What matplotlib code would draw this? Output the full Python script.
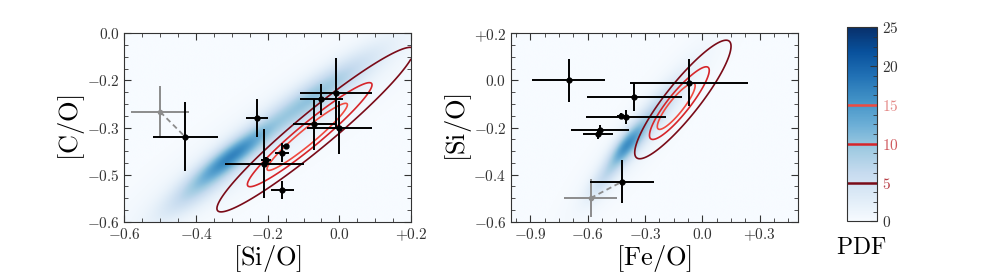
import numpy as np
import matplotlib
matplotlib.use('Agg')
import matplotlib.pyplot as plt
from matplotlib.ticker import AutoMinorLocator, MultipleLocator
from matplotlib.colors import Normalize
from matplotlib.cm import ScalarMappable

plt.rcParams['mathtext.fontset'] = 'cm'
plt.rcParams['font.family'] = 'serif'

# ---- left panel: [Si/O] vs [C/O], black measurements
left_x = [-0.43, -0.23, -0.21, -0.205, -0.16, -0.15, -0.16, -0.07, -0.05, -0.01, 0.00]
left_y = [-0.33, -0.27, -0.415, -0.405, -0.38, -0.36, -0.50, -0.29, -0.21, -0.19, -0.30]
left_xerr = [0.09, 0.03, 0.11, 0.015, 0.02, 0.008, 0.032, 0.06, 0.06, 0.10, 0.09]
left_yerr = [0.11, 0.06, 0.11, 0.012, 0.03, 0.008, 0.029, 0.08, 0.05, 0.11, 0.085]
# grey (alternative) value and the black point it belongs to
left_grey = (-0.50, -0.25, 0.08, 0.083)
left_link = 0

# ---- right panel: [Fe/O] vs [Si/O]
right_x = [-0.70, -0.07, -0.355, -0.40, -0.425, -0.535, -0.545, -0.42]
right_y = [0.00, -0.01, -0.07, -0.157, -0.15, -0.21, -0.227, -0.43]
right_xerr = [0.19, 0.31, 0.25, 0.21, 0.02, 0.15, 0.08, 0.17]
right_yerr = [0.09, 0.10, 0.058, 0.03, 0.01, 0.02, 0.02, 0.09]
right_grey = (-0.585, -0.50, 0.14, 0.08)
right_link = 7

# ---- PDF shapes: (x0, y0, sigma_major, sigma_minor, slope, amplitude)
blue_left = [(-0.30, -0.39, 0.09, 0.024, 0.85, 13.0),
             (-0.07, -0.20, 0.14, 0.030, 0.80, 8.0),
             (-0.40, -0.50, 0.09, 0.028, 0.85, 5.0),
             (-0.18, -0.31, 0.32, 0.060, 0.80, 2.5)]
red_left = [(-0.06, -0.30, 0.29, 0.042, 0.95, 11.0),
            (-0.10, -0.34, 0.13, 0.020, 0.95, 11.0)]
blue_right = [(-0.40, -0.28, 0.08, 0.030, 1.0, 11.0),
              (-0.27, -0.16, 0.15, 0.035, 1.0, 6.0),
              (-0.52, -0.42, 0.08, 0.030, 1.0, 4.0),
              (-0.30, -0.20, 0.32, 0.065, 1.0, 2.0)]
red_right = [(-0.10, -0.08, 0.25, 0.058, 1.0, 13.0),
             (-0.15, -0.12, 0.09, 0.024, 1.0, 12.0)]

levels = [5, 10, 15]
level_colors = ['#7a0b18', '#d6252a', '#f04a40']
label_colors = ['#b84048', '#d05a5e', '#e48a88']

left_lims = (-0.6, 0.2, -0.6, 0.0)
right_lims = (-1.0, 0.5, -0.6, 0.2)

left_xticks = [-0.6, -0.4, -0.2, 0.0, 0.2]
left_xlabels = ['$-0.6$', '$-0.4$', '$-0.2$', '$0.0$', '$+0.2$']
left_yticks = [-0.6, -0.45, -0.3, -0.15, 0.0]
left_ylabels = ['$-0.6$', '$-0.5$', '$-0.3$', '$-0.2$', '$0.0$']
right_xticks = [-0.9, -0.6, -0.3, 0.0, 0.3]
right_xlabels = ['$-0.9$', '$-0.6$', '$-0.3$', '$0.0$', '$+0.3$']
right_yticks = [-0.6, -0.4, -0.2, 0.0, 0.2]
right_ylabels = ['$-0.6$', '$-0.4$', '$-0.2$', '$0.0$', '$+0.2$']


def pdf(comps, X, Y):
    Z = np.zeros_like(X)
    for x0, y0, s1, s2, slope, amp in comps:
        t = np.arctan(slope)
        u = (X - x0) * np.cos(t) + (Y - y0) * np.sin(t)
        v = -(X - x0) * np.sin(t) + (Y - y0) * np.cos(t)
        Z += amp * np.exp(-0.5 * (u**2 / s1**2 + v**2 / s2**2))
    return Z


def panel(ax, lims, blue, red, xs, ys, xe, ye, grey, link):
    x = np.linspace(lims[0], lims[1], 400)
    y = np.linspace(lims[2], lims[3], 400)
    X, Y = np.meshgrid(x, y)
    ax.imshow(pdf(blue, X, Y), origin='lower', extent=lims, aspect='auto',
              cmap='Blues', vmin=0, vmax=25, interpolation='bilinear')
    ax.contour(X, Y, pdf(red, X, Y), levels=levels, colors=level_colors, linewidths=1.2)
    ax.plot([grey[0], xs[link]], [grey[1], ys[link]], ls='--', color='#8c8c8c', lw=1.3, dashes=(3, 2))
    ax.errorbar(grey[0], grey[1], xerr=grey[2], yerr=grey[3], fmt='o', color='#8c8c8c',
                ms=3, elinewidth=1.4, capsize=0)
    ax.errorbar(xs, ys, xerr=xe, yerr=ye, fmt='o', color='k', ms=3.5, elinewidth=1.4, capsize=0)
    ax.set_xlim(lims[0], lims[1])
    ax.set_ylim(lims[2], lims[3])
    ax.xaxis.set_minor_locator(AutoMinorLocator())
    ax.yaxis.set_minor_locator(AutoMinorLocator())
    ax.tick_params(which='both', direction='in', top=True, right=True, colors='#333333',
                   labelsize=11)
    ax.tick_params(which='major', length=5)
    ax.tick_params(which='minor', length=3)
    for s in ax.spines.values():
        s.set_color('#333333')


fig = plt.figure(figsize=(9.97, 2.77), dpi=100)
ax1 = fig.add_axes([0.1247, 0.1996, 0.2876, 0.680])
ax2 = fig.add_axes([0.5128, 0.1996, 0.2873, 0.680])
cax = fig.add_axes([0.8499, 0.201, 0.0295, 0.7004])

panel(ax1, left_lims, blue_left, red_left, left_x, left_y, left_xerr, left_yerr, left_grey, left_link)
panel(ax2, right_lims, blue_right, red_right, right_x, right_y, right_xerr, right_yerr, right_grey, right_link)

ax1.set_xticks(left_xticks, left_xlabels)
ax1.set_yticks(left_yticks, left_ylabels)
ax2.set_xticks(right_xticks, right_xlabels)
ax2.set_yticks(right_yticks, right_ylabels)

ax1.set_xlabel(r'$[\mathrm{Si/O}]$', fontsize=19)
ax1.set_ylabel(r'$[\mathrm{C/O}]$', fontsize=19)
ax2.set_xlabel(r'$[\mathrm{Fe/O}]$', fontsize=19)
ax2.set_ylabel(r'$[\mathrm{Si/O}]$', fontsize=19)
for ax in (ax1, ax2):
    ax.xaxis.set_label_coords(0.5, -0.115)
    ax.yaxis.set_label_coords(-0.13, 0.5)

# colorbar with contour levels marked
cb = fig.colorbar(ScalarMappable(Normalize(0, 25), 'Blues'), cax=cax)
cb.set_ticks([0, 5, 10, 15, 20, 25], labels=['$0$', '$5$', '$10$', '$15$', '$20$', '$25$'])
cax.yaxis.set_minor_locator(MultipleLocator(1.25))
cax.tick_params(which='both', direction='in', right=True, left=False, colors='#333333', labelsize=11)
cax.tick_params(which='major', length=5)
cax.tick_params(which='minor', length=3)
cb.outline.set_edgecolor('#333333')
for lev, c in zip(levels, level_colors):
    cax.axhline(lev, color=c, lw=1.8)
for lab in cax.get_yticklabels():
    for lev, lc in zip(levels, label_colors):
        if lab.get_text() == '$%d$' % lev:
            lab.set_color(lc)
fig.text(0.8635, 0.107, r'$\mathrm{PDF}$', ha='center', va='center', fontsize=17)

fig.savefig('out.png', dpi=100)
